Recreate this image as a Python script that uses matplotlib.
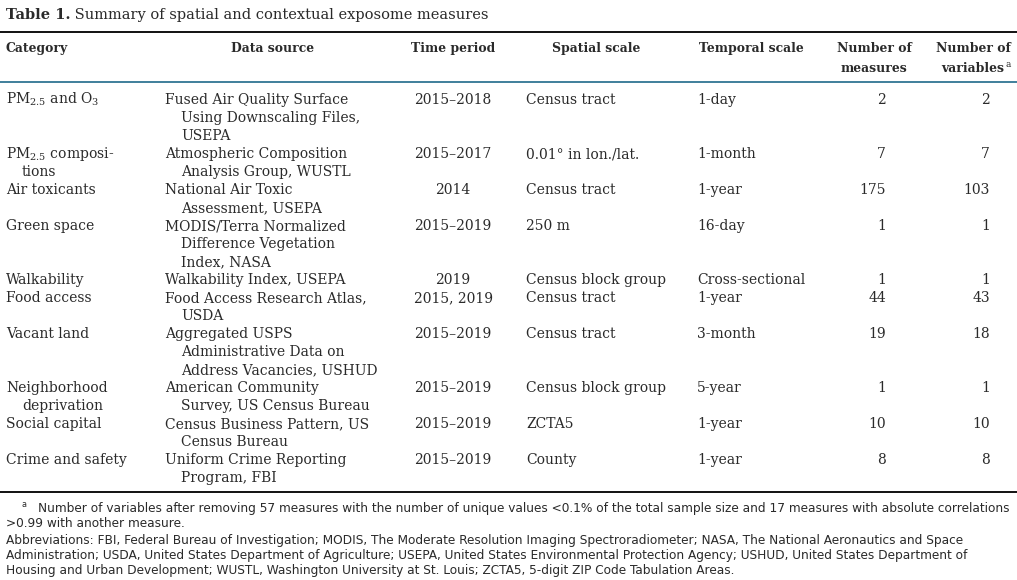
import matplotlib
matplotlib.use("Agg")
import matplotlib.pyplot as plt

plt.rcParams['font.family'] = ['DejaVu Serif']
plt.rcParams['mathtext.fontset'] = 'dejavuserif'

title_bold = "Table 1."
title_rest = " Summary of spatial and contextual exposome measures"

headers = ["Category", "Data source", "Time period", "Spatial scale",
           "Temporal scale", "Number of\nmeasures", "Number of\nvariables"]

categories = ["PM$_{2.5}$ and O$_3$", "PM$_{2.5}$ composi-\ntions", "Air toxicants",
              "Green space", "Walkability", "Food access", "Vacant land",
              "Neighborhood\ndeprivation", "Social capital", "Crime and safety"]
sources = ["Fused Air Quality Surface\nUsing Downscaling Files,\nUSEPA",
           "Atmospheric Composition\nAnalysis Group, WUSTL",
           "National Air Toxic\nAssessment, USEPA",
           "MODIS/Terra Normalized\nDifference Vegetation\nIndex, NASA",
           "Walkability Index, USEPA",
           "Food Access Research Atlas,\nUSDA",
           "Aggregated USPS\nAdministrative Data on\nAddress Vacancies, USHUD",
           "American Community\nSurvey, US Census Bureau",
           "Census Business Pattern, US\nCensus Bureau",
           "Uniform Crime Reporting\nProgram, FBI"]
periods = ["2015–2018", "2015–2017", "2014", "2015–2019", "2019", "2015, 2019",
           "2015–2019", "2015–2019", "2015–2019", "2015–2019"]
spatial = ["Census tract", "0.01° in lon./lat.", "Census tract", "250 m",
           "Census block group", "Census tract", "Census tract",
           "Census block group", "ZCTA5", "County"]
temporal = ["1-day", "1-month", "1-year", "16-day", "Cross-sectional", "1-year",
            "3-month", "5-year", "1-year", "1-year"]
n_measures = [2, 7, 175, 1, 1, 44, 19, 1, 10, 8]
n_variables = [2, 7, 103, 1, 1, 43, 18, 1, 10, 8]

footnote_a = ("Number of variables after removing 57 measures with the number of unique values <0.1% "
              "of the total sample size and 17 measures with absolute correlations")
footnote_a2 = ">0.99 with another measure."
abbrev = ["Abbreviations: FBI, Federal Bureau of Investigation; MODIS, The Moderate Resolution Imaging "
          "Spectroradiometer; NASA, The National Aeronautics and Space",
          "Administration; USDA, United States Department of Agriculture; USEPA, United States "
          "Environmental Protection Agency; USHUD, United States Department of",
          "Housing and Urban Development; WUSTL, Washington University at St. Louis; ZCTA5, "
          "5-digit ZIP Code Tabulation Areas."]

fig = plt.figure(figsize=(10.17, 5.8), dpi=100)
ax = fig.add_axes([0, 0, 1, 1])
ax.set_xlim(0, 1017)
ax.set_ylim(580, 0)
ax.axis("off")

fs = 10.0
hfs = 8.9
txt = "#2a2a2a"
lh = 18

# title
t = ax.text(6, 19, title_bold, fontsize=10.5, fontweight="bold", color=txt, va="baseline")
ax.annotate(title_rest, xy=(1, 0), xycoords=t, fontsize=10.5, color=txt, va="bottom")

# rules
ax.plot([0, 1017], [32, 32], color="#111111", lw=1.4)
ax.plot([0, 1017], [82, 82], color="#1f6a8a", lw=1.2)
ax.plot([0, 1017], [492, 492], color="#111111", lw=1.4)

# header
hx = [(6, "left"), (273, "center"), (453, "center"), (596, "center"),
      (751, "center"), (874, "center"), (973, "center")]
last = None
for (x, ha), h in zip(hx, headers):
    for k, line in enumerate(h.split("\n")):
        last = ax.text(x, 52 + k * 20, line, fontsize=hfs, fontweight="bold", color=txt,
                       ha=ha, va="baseline")
# superscript a after "variables"
ax.annotate("a", xy=(1, 0), xycoords=last, xytext=(0.8, 6), textcoords="offset points",
            fontsize=6.5, color=txt, va="baseline")

# body
y = 104
for i in range(len(categories)):
    cl = categories[i].split("\n")
    sl = sources[i].split("\n")
    for k, line in enumerate(cl):
        ax.text(6 if k == 0 else 22, y + k * lh, line, fontsize=fs, color=txt, va="baseline")
    for k, line in enumerate(sl):
        ax.text(165 if k == 0 else 181, y + k * lh, line, fontsize=fs, color=txt, va="baseline")
    ax.text(453, y, periods[i], fontsize=fs, color=txt, ha="center", va="baseline")
    ax.text(526, y, spatial[i], fontsize=fs, color=txt, va="baseline")
    ax.text(697, y, temporal[i], fontsize=fs, color=txt, va="baseline")
    ax.text(886, y, str(n_measures[i]), fontsize=fs, color=txt, ha="right", va="baseline")
    ax.text(990, y, str(n_variables[i]), fontsize=fs, color=txt, ha="right", va="baseline")
    y += lh * max(len(cl), len(sl))

# footnotes
ffam = ["DejaVu Sans"]
ffs = 9.7
fst = "condensed"
ax.text(22, 507, "a", fontsize=6.5, color=txt, family=ffam, va="baseline", fontstretch=fst)
ax.text(38, 512, footnote_a, fontsize=ffs, color=txt, family=ffam, va="baseline", fontstretch=fst)
ax.text(6, 527, footnote_a2, fontsize=ffs, color=txt, family=ffam, va="baseline", fontstretch=fst)
for k, line in enumerate(abbrev):
    ax.text(6, 544 + k * 15, line, fontsize=ffs, color=txt, family=ffam, va="baseline",
            fontstretch=fst)

fig.savefig("out.png", dpi=100, facecolor="white")
